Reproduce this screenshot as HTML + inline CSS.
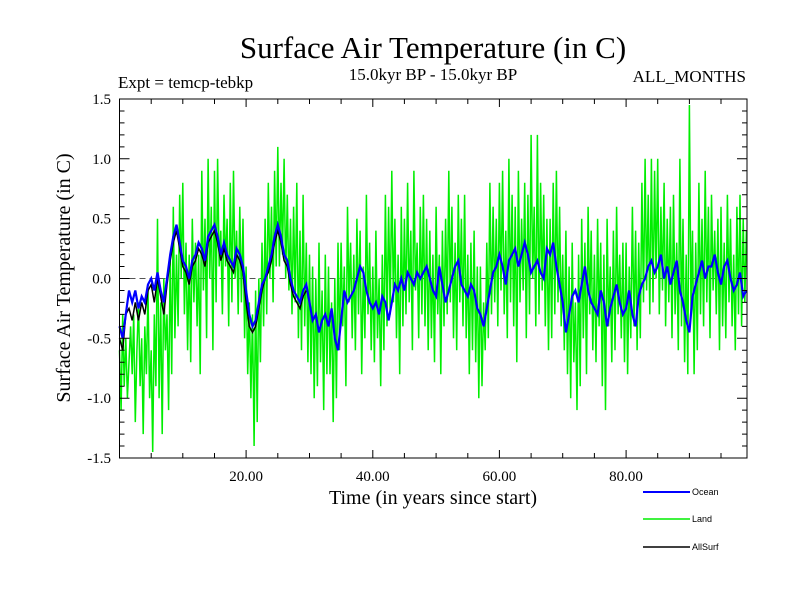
<!DOCTYPE html>
<html><head><meta charset="utf-8"><style>
body{margin:0;background:#fff}
svg{display:block}
text{font-family:"Liberation Serif",serif;fill:#000}
</style></head><body>
<svg id="chart" width="800" height="600" viewBox="0 0 800 600" xmlns="http://www.w3.org/2000/svg">
<rect width="800" height="600" fill="#fff"/>
<text x="433" y="58" font-size="31" text-anchor="middle">Surface Air Temperature (in C)</text>
<text x="118" y="88" font-size="17">Expt = temcp-tebkp</text>
<text x="433" y="80" font-size="17" text-anchor="middle">15.0kyr BP - 15.0kyr BP</text>
<text x="746" y="82" font-size="17" text-anchor="end">ALL_MONTHS</text>
<text x="433" y="504" font-size="20" text-anchor="middle">Time (in years since start)</text>
<text transform="translate(70,278) rotate(-90)" font-size="20" text-anchor="middle">Surface Air Temperature (in C)</text>
<g id="series"></g>
<g id="axes"></g>
<g font-family="Liberation Sans">
 <g><line x1="643" y1="492" x2="690" y2="492" stroke="#0000ff" stroke-width="2"/><text x="692" y="495" font-size="9" style="font-family:'Liberation Sans',sans-serif">Ocean</text></g>
 <g><line x1="643" y1="519" x2="690" y2="519" stroke="#00ee00" stroke-width="1.5"/><text x="692" y="522" font-size="9" style="font-family:'Liberation Sans',sans-serif">Land</text></g>
 <g><line x1="643" y1="547" x2="690" y2="547" stroke="#000" stroke-width="1.5"/><text x="692" y="550" font-size="9" style="font-family:'Liberation Sans',sans-serif">AllSurf</text></g>
</g>
</svg>
<script>
const xTickLabels=["20.00","40.00","60.00","80.00"];
const xTickValues=[20,40,60,80];
const yTickValues=[-1.5,-1.0,-0.5,0.0,0.5,1.0,1.5];
const yTickLabels=["-1.5","-1.0","-0.5","0.0","0.5","1.0","1.5"];
const oceanStep=0.5;
const ocean=[-0.4,-0.5,-0.3,-0.1,-0.2,-0.1,-0.25,-0.15,-0.2,-0.05,
0.0,-0.1,0.05,-0.1,-0.2,0.0,0.2,0.35,0.45,0.3,
0.15,0.1,0.0,0.15,0.2,0.3,0.25,0.15,0.35,0.4,
0.45,0.35,0.2,0.3,0.2,0.15,0.1,0.25,0.2,0.1,
-0.1,-0.3,-0.4,-0.35,-0.2,-0.05,0.0,0.1,0.2,0.35,
0.45,0.35,0.2,0.15,0.0,-0.1,-0.15,-0.2,-0.1,-0.05,
-0.2,-0.35,-0.3,-0.45,-0.35,-0.3,-0.4,-0.25,-0.5,-0.6,
-0.35,-0.1,-0.2,-0.15,-0.1,0.0,0.1,0.05,-0.1,-0.2,
-0.25,-0.2,-0.3,-0.15,-0.2,-0.35,-0.2,-0.05,-0.1,0.0,
-0.1,0.05,0.0,-0.05,0.05,0.0,0.05,0.1,0.0,-0.1,
-0.15,0.1,-0.05,-0.2,-0.1,0.0,0.1,0.15,-0.05,-0.1,
-0.15,-0.05,-0.1,-0.25,-0.3,-0.4,-0.25,-0.1,0.05,0.1,
0.2,0.1,-0.05,0.15,0.2,0.25,0.1,0.2,0.3,0.2,
0.05,0.1,0.15,0.05,0.0,0.25,0.2,0.3,0.1,-0.05,
-0.2,-0.45,-0.3,-0.15,-0.1,-0.2,-0.05,0.1,-0.1,-0.2,
-0.25,-0.3,-0.1,-0.2,-0.4,-0.25,-0.15,-0.05,-0.2,-0.3,
-0.25,-0.1,-0.3,-0.4,-0.15,-0.05,0.0,0.1,0.15,0.05,
0.1,0.2,0.0,0.1,-0.05,0.05,0.15,-0.1,-0.2,-0.35,
-0.45,-0.15,-0.05,0.05,0.15,0.0,0.1,0.1,0.2,0.05,
-0.05,0.1,0.15,0.0,-0.1,-0.05,0.05,-0.15,-0.1];
const landStep=0.25;
const land=[-0.6,-1.1,-0.3,-0.9,-0.5,-1.0,-0.7,-0.4,-0.8,-0.3,-1.2,-0.6,-0.2,-0.9,-0.5,-1.3,-0.4,-0.8,-0.1,-1.0,
-0.6,-1.45,-0.3,-0.9,0.5,-1.0,-0.2,-1.3,0.0,-0.6,-0.3,-1.1,0.2,-0.8,0.6,-0.5,0.2,-0.4,0.7,0.0,
0.8,-0.3,0.3,-0.6,0.2,-0.7,0.5,-0.2,0.3,-0.4,0.2,-0.8,0.9,-0.1,0.5,-0.5,1.0,0.0,0.6,-0.6,
0.9,-0.2,1.0,0.1,0.4,-0.3,0.7,0.1,0.5,-0.4,0.8,-0.2,0.9,0.0,0.4,-0.3,0.6,-0.2,0.5,-0.5,
0.1,-0.8,-0.2,-1.0,-0.3,-1.4,-0.1,-1.2,0.0,-0.7,0.3,-0.4,0.5,-0.3,0.8,0.0,0.6,-0.2,0.9,0.1,
1.1,0.1,0.8,0.2,1.0,0.0,0.7,-0.1,0.5,-0.3,0.6,-0.2,0.8,-0.5,0.4,-0.6,0.7,-0.4,0.3,-0.7,
0.2,-0.8,0.1,-1.0,0.0,-0.9,0.3,-0.7,-0.1,-1.1,0.2,-0.8,0.1,-0.8,-0.2,-1.2,0.0,-1.0,0.3,-0.6,
0.3,-0.4,0.1,-0.9,0.6,-0.2,0.3,-0.5,0.2,-0.6,0.5,-0.3,0.4,-0.8,0.1,-0.5,0.7,-0.3,0.3,-0.6,
0.1,-0.7,0.4,-0.5,0.0,-0.9,0.2,-0.6,0.7,-0.4,0.6,-0.3,0.9,-0.2,0.5,-0.5,0.2,-0.8,0.6,-0.4,
0.5,-0.3,0.8,-0.2,0.4,-0.6,0.9,-0.1,0.3,-0.5,0.6,-0.3,0.7,-0.4,0.5,-0.6,0.4,-0.5,0.2,-0.7,
0.6,-0.3,0.2,-0.8,0.4,-0.4,0.5,-0.3,0.9,-0.2,0.6,-0.5,0.3,-0.6,0.7,-0.2,0.5,-0.4,0.7,-0.5,
0.2,-0.8,0.3,-0.6,0.4,-0.7,0.1,-1.0,0.1,-0.9,-0.2,-0.6,0.3,-0.5,0.8,-0.3,0.6,-0.2,0.5,-0.4,
0.8,-0.1,0.9,-0.3,0.4,-0.5,1.0,-0.2,0.7,-0.4,0.6,-0.7,0.9,-0.2,0.5,-0.1,0.8,-0.5,0.7,-0.3,
1.2,0.0,0.6,-0.4,1.2,-0.3,0.8,-0.1,0.7,-0.4,0.5,-0.6,0.5,-0.5,0.8,-0.3,0.9,-0.2,0.6,-0.4,
0.2,-0.6,0.4,-0.8,0.1,-1.0,0.3,-0.7,-0.2,-1.1,0.2,-0.9,0.5,-0.5,0.3,-0.8,0.6,-0.3,0.4,-0.6,
0.2,-0.7,0.5,-0.4,0.3,-0.9,0.2,-1.1,0.5,-0.4,0.1,-0.7,0.4,-0.6,0.6,-0.3,0.2,-0.5,0.3,-0.7,
0.3,-0.8,0.1,-0.5,0.6,-0.4,0.4,-0.6,0.3,-0.5,0.8,-0.2,1.0,-0.1,0.7,-0.3,1.0,-0.2,0.9,0.0,
1.0,-0.3,0.6,-0.1,0.8,-0.4,0.5,-0.2,0.6,-0.5,0.7,-0.3,0.3,-0.6,1.0,-0.4,0.5,-0.7,0.2,-0.8,
1.45,-0.3,0.4,-0.8,0.3,-0.6,0.8,-0.3,0.5,-0.4,0.9,-0.2,0.6,-0.5,0.7,-0.1,0.4,-0.3,0.5,-0.6,
0.6,-0.4,0.3,-0.5,0.7,-0.2,0.5,-0.4,0.2,-0.6,0.6,-0.3,0.7,-0.4,0.5,-0.2,0.4];
const allStep=0.5;
const allsurf=[-0.5,-0.6,-0.3,-0.25,-0.35,-0.2,-0.35,-0.2,-0.3,-0.1,
-0.05,-0.2,0.0,-0.15,-0.3,-0.05,0.15,0.3,0.4,0.25,
0.1,0.05,-0.05,0.1,0.15,0.25,0.2,0.1,0.3,0.35,
0.4,0.3,0.15,0.25,0.15,0.1,0.05,0.2,0.15,0.05,
-0.2,-0.4,-0.45,-0.4,-0.25,-0.1,0.0,0.05,0.15,0.3,
0.4,0.3,0.15,0.1,-0.05,-0.15,-0.2,-0.25,-0.15,-0.1];

const X0=119.5,X1=747,Y0=99,Y1=458,XMIN=0,XMAX=99.1,YMIN=-1.5,YMAX=1.5;
function sx(v){return X0+(v-XMIN)/(XMAX-XMIN)*(X1-X0);}
function sy(v){return Y1-(v-YMIN)/(YMAX-YMIN)*(Y1-Y0);}
const NS='http://www.w3.org/2000/svg';
const series=document.getElementById('series');
const axes=document.getElementById('axes');
function mk(tag,attrs,parent){const e=document.createElementNS(NS,tag);for(const k in attrs)e.setAttribute(k,attrs[k]);parent.appendChild(e);return e;}
function pathFor(vals,step){return vals.map((v,i)=>(i?'L':'M')+sx(i*step).toFixed(1)+' '+sy(v).toFixed(1)).join('');}

const zero=mk('line',{x1:X0,x2:X1,y1:sy(0),y2:sy(0),stroke:'#555','stroke-dasharray':'6,4','stroke-width':1},series);


const pl=mk('path',{d:pathFor(land,landStep),fill:'none',stroke:'#00ee00','stroke-width':1.5},series);


const pa=mk('path',{d:pathFor(allsurf,allStep),fill:'none',stroke:'#000','stroke-width':1.5},series);


const po=mk('path',{d:pathFor(ocean,oceanStep),fill:'none',stroke:'#0000ff','stroke-width':2.2},series);



const frame=mk('rect',{x:X0,y:Y0,width:X1-X0,height:Y1-Y0,fill:'none',stroke:'#000','stroke-width':1},axes);


let td='';
for(let t=5;t<XMAX;t+=5){const x=sx(t).toFixed(1);const L=(t%20===0)?8:5;td+=`M${x} ${Y1}v${-L}M${x} ${Y0}v${L}`;}
for(let k=-14;k<=14;k++){const v=k/10;const y=sy(v).toFixed(1);const L=(k%5===0)?10:5;td+=`M${X0} ${y}h${L}M${X1} ${y}h${-L}`;}
const ticks=mk('path',{d:td,stroke:'#000','stroke-width':1,fill:'none'},axes);


xTickValues.forEach((v,i)=>{const t=mk('text',{x:sx(v),y:481,'font-size':15,'text-anchor':'middle'},axes);t.textContent=xTickLabels[i];

});
yTickValues.forEach((v,i)=>{const t=mk('text',{x:111,y:sy(v)+5,'font-size':15,'text-anchor':'end'},axes);t.textContent=yTickLabels[i];

});
</script>
</body></html>
